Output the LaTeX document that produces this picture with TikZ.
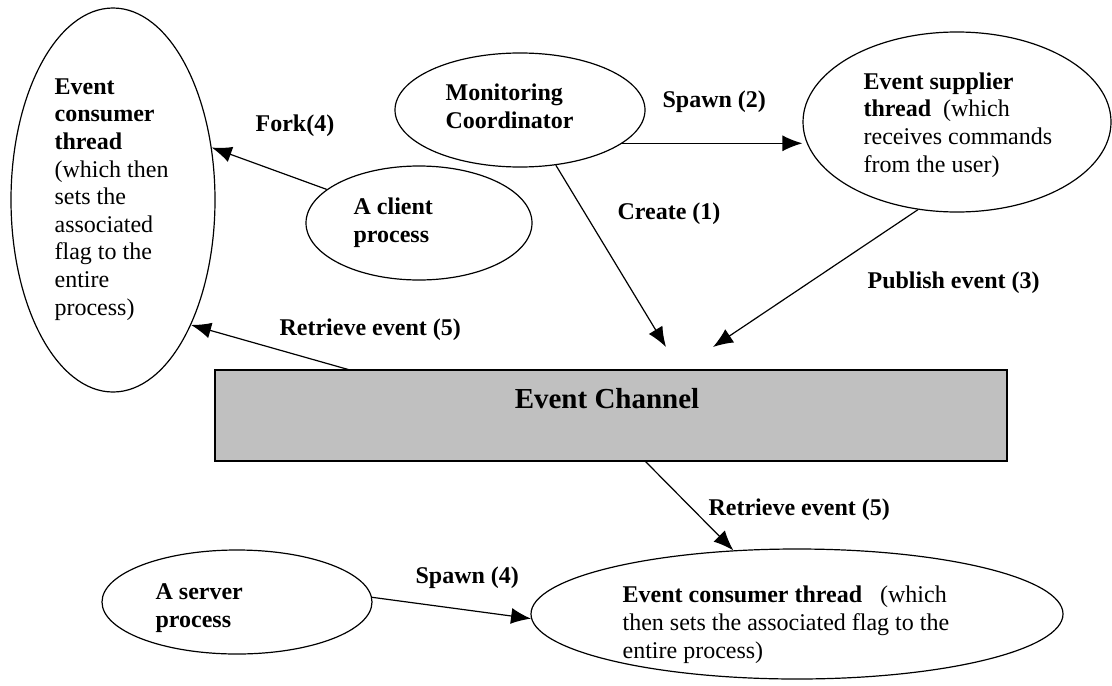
\documentclass[tikz,border=0pt]{standalone}
\usepackage{fontspec}
\setmainfont{Liberation Serif}
\usetikzlibrary{shapes,arrows.meta}
\definecolor{chgray}{HTML}{C0C0C0}

\begin{document}
\begin{tikzpicture}[x=0.5pt,y=-0.5pt,line width=0.6pt,
        font=\fontsize{12}{13.8}\selectfont,
        blob/.style={ellipse,draw,inner sep=0pt},
        txt/.style={align=left,anchor=base west,inner sep=0pt},
        lbl/.style={font=\fontsize{12}{13.8}\selectfont\bfseries,anchor=base west,inner sep=0pt},
        >={Latex[length=10pt,width=8pt]}]
        \useasboundingbox (0,0) rectangle (1112,685);

        \node[blob,minimum width=102pt,minimum height=192pt] (lcons) at (113,200) {};
        \node[blob,minimum width=125pt,minimum height=57pt] (coord) at (520,110) {};
        \node[blob,minimum width=154pt,minimum height=90pt] (supp) at (957,122) {};
        \node[blob,minimum width=113pt,minimum height=57pt] (client) at (419,223) {};
        \node[blob,minimum width=135pt,minimum height=52pt] (server) at (237,602) {};
        \node[blob,minimum width=266pt,minimum height=65pt] (rcons) at (797,614) {};
        \node[draw,line width=1pt,fill=chgray,inner sep=0pt,minimum width=396pt,minimum height=45.5pt] (chan) at (611,415.5) {};

        \node[txt] (lconstxt) at (54,315) {\textbf{Event}\\\textbf{consumer}\\\textbf{thread}\\(which then\\sets the\\associated\\flag to the\\entire\\process)};
        \node[txt,font=\fontsize{12}{13.8}\selectfont\bfseries] (coordtxt) at (445,128) {Monitoring\\Coordinator};
        \node[txt] (supptxt) at (863,172) {\textbf{Event supplier}\\\textbf{thread}~~(which\\receives commands\\from the user)};
        \node[txt,font=\fontsize{12}{13.8}\selectfont\bfseries] (clienttxt) at (353,242) {A client\\process};
        \node[txt,font=\fontsize{12}{13.8}\selectfont\bfseries] (servertxt) at (155,627) {A server\\process};
        \node[txt] (rconstxt) at (622,658) {\textbf{Event consumer thread}~~~(which\\then sets the associated flag to the\\entire process)};
        \node[anchor=base,inner sep=0pt,font=\fontsize{14.5}{16}\selectfont\bfseries] (chantxt) at (607,408) {Event Channel};

        \node[lbl] (fork) at (255,131) {Fork(4)};
        \node[lbl] (spawnb) at (662,107) {Spawn (2)};
        \node[lbl] (create) at (617,219) {Create (1)};
        \node[lbl] (publish) at (867,288) {Publish event (3)};
        \node[lbl] (retra) at (279,335) {Retrieve event (5)};
        \node[lbl] (retrb) at (708,515) {Retrieve event (5)};
        \node[lbl] (spawnd) at (415,583) {Spawn (4)};

        \coordinate (createtip) at (666,347);
        \coordinate (pubtip) at (713,347);
        \coordinate (chantop) at (350,370);
        \coordinate (chanbot) at (645,461);

        \draw[->] (coord.-57) -- (createtip);
        \draw[->] (coord.-18) -- (coord.-18 -| supp.west);
        \draw[->] (supp.-114) -- (pubtip);
        \draw[->] (client.160) -- (lcons.28);
        \draw[->] (chantop) -- (lcons.-58);
        \draw[->] (chanbot) -- (rcons.135);
        \draw[->] (server.2) -- (rcons.181);
\end{tikzpicture}
\end{document}
